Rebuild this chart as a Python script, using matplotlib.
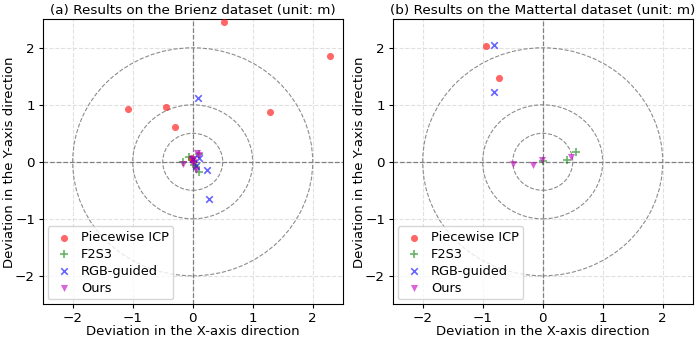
import numpy as np
import matplotlib
matplotlib.use("Agg")
import matplotlib.pyplot as plt
from matplotlib.patches import Circle

# ---- data ----
titles = ["(a) Results on the Brienz dataset (unit: m)",
          "(b) Results on the Mattertal dataset (unit: m)"]
methods = ["Piecewise ICP", "F2S3", "RGB-guided", "Ours"]

brienz_icp_x = [0.52, 2.28, -1.08, -0.45, 1.28, -0.29, -0.03, 0.0]
brienz_icp_y = [2.45, 1.86, 0.92, 0.96, 0.87, 0.61, 0.07, 0.03]
brienz_f2s3_x = [-0.17, -0.06, 0.10, 0.02, 0.10, 0.05]
brienz_f2s3_y = [-0.01, 0.08, 0.14, -0.06, -0.18, -0.10]
brienz_rgb_x = [0.08, 0.23, 0.27, 0.10, 0.05, 0.0]
brienz_rgb_y = [1.12, -0.15, -0.65, 0.07, -0.08, 0.05]
brienz_ours_x = [-0.16, 0.07, 0.10, 0.0, 0.06, -0.02]
brienz_ours_y = [-0.03, 0.16, 0.12, -0.03, -0.14, 0.05]

matt_icp_x = [-0.95, -0.73]
matt_icp_y = [2.04, 1.47]
matt_f2s3_x = [0.56, 0.40, 0.0]
matt_f2s3_y = [0.18, 0.04, 0.02]
matt_rgb_x = [-0.81, -0.81]
matt_rgb_y = [2.05, 1.23]
matt_ours_x = [-0.49, -0.17, -0.02, 0.47]
matt_ours_y = [-0.03, -0.05, 0.04, 0.09]

radii = [0.5, 1.0, 2.0]
ticks = [-2, -1, 0, 1, 2]

datasets = [
    [(brienz_icp_x, brienz_icp_y), (brienz_f2s3_x, brienz_f2s3_y),
     (brienz_rgb_x, brienz_rgb_y), (brienz_ours_x, brienz_ours_y)],
    [(matt_icp_x, matt_icp_y), (matt_f2s3_x, matt_f2s3_y),
     (matt_rgb_x, matt_rgb_y), (matt_ours_x, matt_ours_y)],
]
styles = [
    dict(marker="o", color="red", s=26, alpha=0.6, linewidths=0),
    dict(marker="+", color="green", s=26, alpha=0.6, linewidths=1.2),
    dict(marker="x", color="blue", s=22, alpha=0.6, linewidths=1.2),
    dict(marker="v", color="m", s=26, alpha=0.6, linewidths=0),
]

fig = plt.figure(figsize=(6.98, 3.42), dpi=100)
ax_pos = [[42.7 / 698, 37.7 / 342, 300 / 698, 285 / 342],
          [392.7 / 698, 37.7 / 342, 300 / 698, 285 / 342]]

for i in range(2):
    ax = fig.add_axes(ax_pos[i])
    ax.grid(True, linestyle="--", color="#dddddd", linewidth=0.8, alpha=0.9)
    ax.set_axisbelow(True)
    for r in radii:
        ax.add_patch(Circle((0, 0), r, fill=False, linestyle="--",
                            edgecolor="gray", linewidth=0.8, alpha=0.9))
    ax.axhline(0, color="gray", linestyle="--", linewidth=0.9)
    ax.axvline(0, color="gray", linestyle="--", linewidth=0.9)
    for (xs, ys), name, st in zip(datasets[i], methods, styles):
        ax.scatter(xs, ys, label=name, zorder=3, **st)
    ax.set_xlim(-2.5, 2.5)
    ax.set_ylim(-2.5, 2.5)
    ax.set_xticks(ticks)
    ax.set_yticks(ticks)
    ax.tick_params(labelsize=9.7, length=3, pad=2.5)
    ax.set_title(titles[i], fontsize=9.7, pad=4)
    ax.set_xlabel("Deviation in the X-axis direction", fontsize=9.5, labelpad=0)
    ax.set_ylabel("Deviation in the Y-axis direction", fontsize=9.5, labelpad=-1)
    ax.legend(loc="lower left", fontsize=9.3, handletextpad=0.4,
              labelspacing=0.3, borderpad=0.35, handlelength=1.8,
              borderaxespad=0.4)

fig.savefig("out.png", dpi=100)
